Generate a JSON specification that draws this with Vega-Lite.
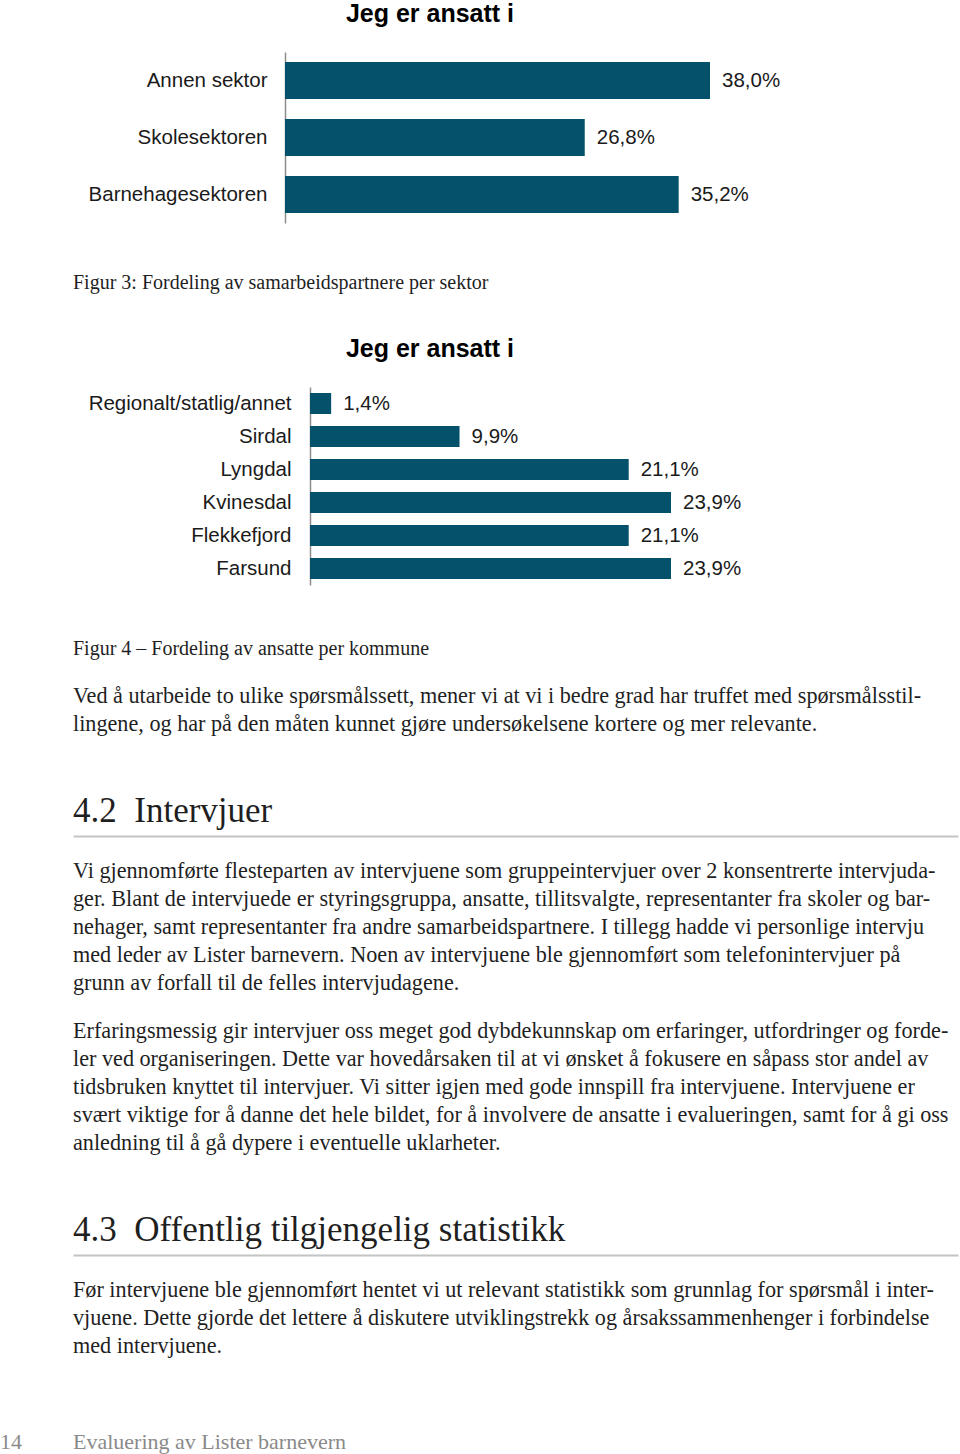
{
  "$schema": "https://vega.github.io/schema/vega-lite/v6.json",
  "background": "#ffffff",
  "padding": {"top": 2, "left": 0, "right": 0, "bottom": 0},
  "spacing": 0,
  "bounds": "flush",
  "config": {
    "view": {"stroke": null},
    "locale": {"number": {"decimal": ",", "thousands": " ", "grouping": [3], "currency": ["", " kr"]}}
  },
  "datasets": {
    "sektor": [
      {"kategori": "Annen sektor", "andel": 0.380},
      {"kategori": "Skolesektoren", "andel": 0.268},
      {"kategori": "Barnehagesektoren", "andel": 0.352}
    ],
    "kommune": [
      {"kommune": "Regionalt/statlig/annet", "andel": 0.014},
      {"kommune": "Sirdal", "andel": 0.099},
      {"kommune": "Lyngdal", "andel": 0.211},
      {"kommune": "Kvinesdal", "andel": 0.239},
      {"kommune": "Flekkefjord", "andel": 0.211},
      {"kommune": "Farsund", "andel": 0.239}
    ],
    "figur3": [{"line": 1, "text": "Figur 3: Fordeling av samarbeidspartnere per sektor"}],
    "figur4": [{"line": 1, "text": "Figur 4 – Fordeling av ansatte per kommune"}],
    "avsnitt0": [
      {"line": 1, "text": "Ved å utarbeide to ulike spørsmålssett, mener vi at vi i bedre grad har truffet med spørsmålsstil-"},
      {"line": 2, "text": "lingene, og har på den måten kunnet gjøre undersøkelsene kortere og mer relevante."}
    ],
    "overskrift42": [{"line": 1, "text": "4.2\u2002Intervjuer"}],
    "avsnitt1": [
      {"line": 1, "text": "Vi gjennomførte flesteparten av intervjuene som gruppeintervjuer over 2 konsentrerte intervjuda-"},
      {"line": 2, "text": "ger. Blant de intervjuede er styringsgruppa, ansatte, tillitsvalgte, representanter fra skoler og bar-"},
      {"line": 3, "text": "nehager, samt representanter fra andre samarbeidspartnere. I tillegg hadde vi personlige intervju"},
      {"line": 4, "text": "med leder av Lister barnevern. Noen av intervjuene ble gjennomført som telefonintervjuer på"},
      {"line": 5, "text": "grunn av forfall til de felles intervjudagene."}
    ],
    "avsnitt2": [
      {"line": 1, "text": "Erfaringsmessig gir intervjuer oss meget god dybdekunnskap om erfaringer, utfordringer og forde-"},
      {"line": 2, "text": "ler ved organiseringen.  Dette var hovedårsaken til at vi ønsket å fokusere en såpass stor andel av"},
      {"line": 3, "text": "tidsbruken knyttet til intervjuer. Vi sitter igjen med gode innspill fra intervjuene. Intervjuene er"},
      {"line": 4, "text": "svært viktige for å danne det hele bildet, for å involvere de ansatte i evalueringen, samt for å gi oss"},
      {"line": 5, "text": "anledning til å gå dypere i eventuelle uklarheter."}
    ],
    "overskrift43": [{"line": 1, "text": "4.3\u2002Offentlig tilgjengelig statistikk"}],
    "avsnitt3": [
      {"line": 1, "text": "Før intervjuene ble gjennomført hentet vi ut relevant statistikk som grunnlag for spørsmål i inter-"},
      {"line": 2, "text": "vjuene. Dette gjorde det lettere å diskutere utviklingstrekk og årsakssammenhenger i forbindelse"},
      {"line": 3, "text": "med intervjuene."}
    ],
    "bunntekst": [
      {"line": 1, "del": "side", "text": "14"},
      {"line": 1, "del": "tittel", "text": "Evaluering av Lister barnevern"}
    ]
  },
  "vconcat": [
    {
      "width": 849,
      "height": 171,
      "title": {"text": "Jeg er ansatt i", "font": "Liberation Sans", "fontSize": 25, "fontWeight": "bold", "color": "#000000", "anchor": "middle", "dx": -67.5, "offset": 25},
      "data": {"name": "sektor"},
      "encoding": {
        "y": {"field": "kategori", "type": "nominal", "sort": null,
              "scale": {"paddingInner": 0.35, "paddingOuter": 0.175},
              "axis": {"title": null, "offset": -212, "domain": true, "domainColor": "#8c8c8c", "domainWidth": 1.5, "ticks": false, "grid": false,
                       "labelPadding": 18, "labelFont": "Liberation Sans", "labelFontSize": 20.5, "labelColor": "#1a1a1a", "labelLimit": 400}},
        "x": {"field": "andel", "type": "quantitative", "scale": {"padding": 212, "nice": false, "zero": true}, "axis": null}
      },
      "layer": [
        {"mark": {"type": "bar", "color": "#04516b"}},
        {"mark": {"type": "text", "align": "left", "baseline": "middle", "dx": 12, "font": "Liberation Sans", "fontSize": 20.5, "color": "#1a1a1a"},
         "encoding": {"text": {"field": "andel", "type": "quantitative", "format": ".1%"}}}
      ]
    },
    {
      "width": 887,
      "height": 164,
      "data": {"name": "figur3"},
      "mark": {"type": "text", "align": "left", "baseline": "alphabetic", "font": "Liberation Serif", "fontSize": 20, "color": "#1f1f1f"},
      "encoding": {
        "x": {"datum": 0, "type": "quantitative", "scale": {"domain": [0, 1]}, "axis": null},
        "y": {"field": "line", "type": "ordinal", "scale": {"type": "point", "padding": 0, "align": 0.4024}, "axis": null},
        "text": {"field": "text"}
      }
    },
    {
      "width": 835,
      "height": 198,
      "title": {"text": "Jeg er ansatt i", "font": "Liberation Sans", "fontSize": 25, "fontWeight": "bold", "color": "#000000", "anchor": "middle", "dx": -60.5, "offset": 25},
      "data": {"name": "kommune"},
      "encoding": {
        "y": {"field": "kommune", "type": "nominal", "sort": null,
              "scale": {"paddingInner": 0.36, "paddingOuter": 0.18},
              "axis": {"title": null, "offset": -237, "domain": true, "domainColor": "#8c8c8c", "domainWidth": 1.5, "ticks": false, "grid": false,
                       "labelPadding": 19, "labelFont": "Liberation Sans", "labelFontSize": 20.5, "labelColor": "#1a1a1a", "labelLimit": 400}},
        "x": {"field": "andel", "type": "quantitative", "scale": {"padding": 237, "nice": false, "zero": true}, "axis": null}
      },
      "layer": [
        {"mark": {"type": "bar", "color": "#04516b"}},
        {"mark": {"type": "text", "align": "left", "baseline": "middle", "dx": 12, "font": "Liberation Sans", "fontSize": 20.5, "color": "#1a1a1a"},
         "encoding": {"text": {"field": "andel", "type": "quantitative", "format": ".1%"}}}
      ]
    },
    {
      "width": 887,
      "height": 90,
      "data": {"name": "figur4"},
      "mark": {"type": "text", "align": "left", "baseline": "alphabetic", "font": "Liberation Serif", "fontSize": 20, "color": "#1f1f1f"},
      "encoding": {
        "x": {"datum": 0, "type": "quantitative", "scale": {"domain": [0, 1]}, "axis": null},
        "y": {"field": "line", "type": "ordinal", "scale": {"type": "point", "padding": 0, "align": 0.7778}, "axis": null},
        "text": {"field": "text"}
      }
    },
    {
      "width": 887,
      "height": 84,
      "data": {"name": "avsnitt0"},
      "mark": {"type": "text", "align": "left", "baseline": "alphabetic", "font": "Liberation Serif", "fontSize": 22.2, "color": "#1f1f1f"},
      "encoding": {
        "x": {"datum": 0, "type": "quantitative", "scale": {"domain": [0, 1]}, "axis": null},
        "y": {"field": "line", "type": "ordinal", "scale": {"type": "point", "padding": 1, "align": 0.5}, "axis": null},
        "text": {"field": "text"}
      }
    },
    {
      "width": 885,
      "height": 77,
      "data": {"name": "overskrift42"},
      "mark": {"type": "text", "align": "left", "baseline": "alphabetic", "font": "Liberation Serif", "fontSize": 35, "color": "#1f1f1f"},
      "encoding": {
        "x": {"datum": 0, "type": "quantitative", "scale": {"domain": [0, 1]},
              "axis": {"domain": true, "domainColor": "#c4c4c4", "domainWidth": 2, "ticks": false, "labels": false, "grid": false, "title": null}},
        "y": {"field": "line", "type": "ordinal", "scale": {"type": "point", "padding": 0, "align": 0.8182}, "axis": null},
        "text": {"field": "text"}
      }
    },
    {
      "width": 887,
      "height": 168,
      "data": {"name": "avsnitt1"},
      "mark": {"type": "text", "align": "left", "baseline": "alphabetic", "font": "Liberation Serif", "fontSize": 22.2, "color": "#1f1f1f"},
      "encoding": {
        "x": {"datum": 0, "type": "quantitative", "scale": {"domain": [0, 1]}, "axis": null},
        "y": {"field": "line", "type": "ordinal", "scale": {"type": "point", "padding": 1, "align": 0.75}, "axis": null},
        "text": {"field": "text"}
      }
    },
    {
      "width": 887,
      "height": 168,
      "data": {"name": "avsnitt2"},
      "mark": {"type": "text", "align": "left", "baseline": "alphabetic", "font": "Liberation Serif", "fontSize": 22.2, "color": "#1f1f1f"},
      "encoding": {
        "x": {"datum": 0, "type": "quantitative", "scale": {"domain": [0, 1]}, "axis": null},
        "y": {"field": "line", "type": "ordinal", "scale": {"type": "point", "padding": 1, "align": 0.6071}, "axis": null},
        "text": {"field": "text"}
      }
    },
    {
      "width": 885,
      "height": 83,
      "data": {"name": "overskrift43"},
      "mark": {"type": "text", "align": "left", "baseline": "alphabetic", "font": "Liberation Serif", "fontSize": 35, "color": "#1f1f1f"},
      "encoding": {
        "x": {"datum": 0, "type": "quantitative", "scale": {"domain": [0, 1]},
              "axis": {"domain": true, "domainColor": "#c4c4c4", "domainWidth": 2, "ticks": false, "labels": false, "grid": false, "title": null}},
        "y": {"field": "line", "type": "ordinal", "scale": {"type": "point", "padding": 0, "align": 0.8313}, "axis": null},
        "text": {"field": "text"}
      }
    },
    {
      "width": 887,
      "height": 112,
      "data": {"name": "avsnitt3"},
      "mark": {"type": "text", "align": "left", "baseline": "alphabetic", "font": "Liberation Serif", "fontSize": 22.2, "color": "#1f1f1f"},
      "encoding": {
        "x": {"datum": 0, "type": "quantitative", "scale": {"domain": [0, 1]}, "axis": null},
        "y": {"field": "line", "type": "ordinal", "scale": {"type": "point", "padding": 1, "align": 0.75}, "axis": null},
        "text": {"field": "text"}
      }
    },
    {
      "width": 887,
      "height": 87,
      "data": {"name": "bunntekst"},
      "encoding": {
        "x": {"datum": 0, "type": "quantitative", "scale": {"domain": [0, 1]}, "axis": null},
        "y": {"field": "line", "type": "ordinal", "scale": {"type": "point", "padding": 0, "align": 0.9425}, "axis": null},
        "text": {"field": "text"}
      },
      "layer": [
        {"transform": [{"filter": "datum.del === 'side'"}],
         "mark": {"type": "text", "align": "left", "baseline": "alphabetic", "dx": -73, "font": "Liberation Serif", "fontSize": 22, "color": "#8a8a8a"}},
        {"transform": [{"filter": "datum.del === 'tittel'"}],
         "mark": {"type": "text", "align": "left", "baseline": "alphabetic", "font": "Liberation Serif", "fontSize": 22, "color": "#8a8a8a"}}
      ]
    }
  ]
}
